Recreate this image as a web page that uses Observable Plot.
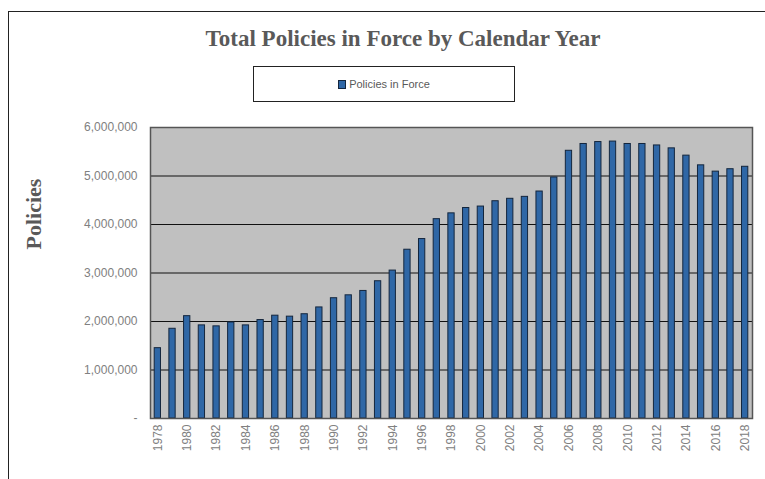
<!DOCTYPE html>
<html>
<head>
<meta charset="utf-8">
<script src="https://cdn.jsdelivr.net/npm/d3@7"></script>
<script src="https://cdn.jsdelivr.net/npm/@observablehq/plot@0.6"></script>
<style>
  html, body { margin: 0; padding: 0; background: #fff; width: 765px; height: 479px; overflow: hidden; }
  #frame { position: absolute; left: 8px; top: 11px; width: 800px; height: 520px; border-left: 1.5px solid #222; border-top: 1.5px solid #222; }
  #title { position: absolute; left: 0; top: 26px; width: 806px; text-align: center; font: bold 23px "Liberation Serif", serif; color: #595959; }
  #legend { position: absolute; left: 253px; top: 66px; width: 260px; height: 34px; border: 1.5px solid #222; display: flex; align-items: center; justify-content: center; font: 11px "Liberation Sans", sans-serif; color: #595959; background: #fff; }
  #legend .sw { display: inline-block; width: 6px; height: 7px; background: #2f67a6; border: 1px solid #14263d; margin-right: 3px; }
  #ytitle { position: absolute; left: 34px; top: 214px; transform: translate(-50%, -50%) rotate(-90deg); font: bold 22px "Liberation Serif", serif; color: #595959; white-space: nowrap; }
  #chart { position: absolute; left: 0; top: 110px; }
</style>
</head>
<body>
<div id="frame"></div>
<div id="title">Total Policies in Force by Calendar Year</div>
<div id="legend"><span class="sw"></span>Policies in Force</div>
<div id="ytitle">Policies</div>
<div id="chart"></div>
<script>
const years = [1978,1979,1980,1981,1982,1983,1984,1985,1986,1987,1988,1989,1990,1991,1992,1993,1994,1995,1996,1997,1998,1999,2000,2001,2002,2003,2004,2005,2006,2007,2008,2009,2010,2011,2012,2013,2014,2015,2016,2017,2018];
const policies = [1450000,1850000,2110000,1920000,1900000,1980000,1920000,2030000,2120000,2100000,2150000,2290000,2480000,2540000,2630000,2830000,3050000,3480000,3700000,4110000,4230000,4340000,4370000,4480000,4530000,4570000,4680000,4970000,5520000,5660000,5700000,5710000,5660000,5660000,5630000,5570000,5420000,5220000,5090000,5140000,5190000];
const yTicks = [0,1000000,2000000,3000000,4000000,5000000,6000000];
const xTickYears = years.filter((d, i) => i % 2 === 0);

const data = years.map((y, i) => ({year: y, value: policies[i]}));

const chart = Plot.plot({
  width: 765,
  height: 369,
  marginLeft: 150,
  marginRight: 13,
  marginTop: 17,
  marginBottom: 61,
  style: {background: "transparent", fontFamily: "Liberation Sans, sans-serif", fontSize: "12px", color: "#808080"},
  x: {type: "band", domain: years, padding: 0, round: false, ticks: xTickYears, tickFormat: d => String(d), tickRotate: -90, tickSize: 0, tickPadding: 6, label: null},
  y: {domain: [0, 6000000], ticks: yTicks, tickFormat: d => d === 0 ? "-" : d3.format(",")(d), tickSize: 0, tickPadding: 13, label: null},
  marks: [
    Plot.frame({fill: "#c0c0c0"}),
    Plot.ruleY(yTicks, {stroke: "#111", strokeWidth: 1.2}),
    Plot.barY(data, {x: "year", y: "value", fill: "#2f67a6", stroke: "#14263d", strokeWidth: 1, insetLeft: 4.2, insetRight: 4.2}),
    Plot.frame({stroke: "#555", strokeWidth: 1.5})
  ]
});
document.getElementById("chart").appendChild(chart);
</script>
</body>
</html>
